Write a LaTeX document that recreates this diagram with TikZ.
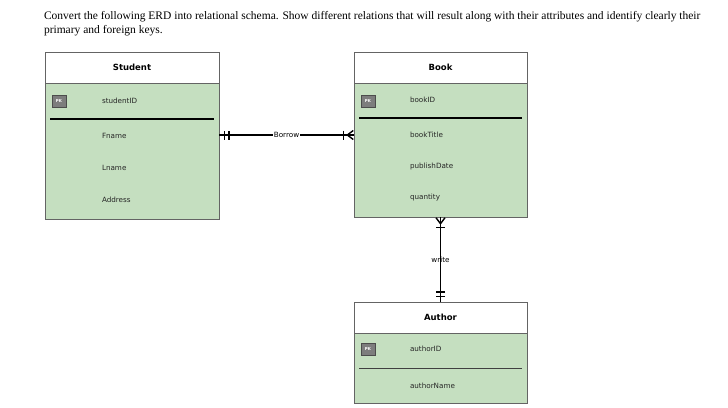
\documentclass[tikz,border=0pt]{standalone}
\usepackage{fontspec}
\setmainfont{Liberation Serif}
\newfontfamily\boxfont{DejaVu Sans}
\usetikzlibrary{arrows.meta, positioning}
\definecolor{entgreen}{RGB}{197,223,192}
\definecolor{entborder}{RGB}{100,100,100}
\definecolor{pkgray}{RGB}{125,125,125}

\begin{document}
\begin{tikzpicture}[x=1pt, y=-1pt,
    every node/.style={inner sep=0pt, outer sep=0pt},
    header/.style={rectangle, draw=entborder, fill=white, minimum height=31pt, font=\boxfont\fontsize{8.5}{10}\selectfont\bfseries},
    body/.style={rectangle, draw=entborder, fill=entgreen, anchor=north},
    pkbox/.style={rectangle, draw=black!70, fill=pkgray, minimum width=14pt, minimum height=12pt, text=white, font=\boxfont\fontsize{4}{5}\selectfont\bfseries},
    attr/.style={anchor=west, text=black!85, font=\boxfont\fontsize{7.2}{8}\selectfont},
    relname/.style={fill=white, inner sep=1pt, font=\boxfont\fontsize{7.2}{8}\selectfont},
    rel/.style={line width=1.4pt},
    one/.style={-{Bar[width=9pt, line width=1.4pt, sep=3pt] Bar[width=9pt, line width=1.4pt, sep=5pt]}},
    many/.style={-{Bar[width=9pt, line width=1.4pt, sep=2pt] Straight Barb[reversed, length=6pt, width=9pt, line width=1.4pt]}}]
    \useasboundingbox (0,0) rectangle (728,407);

    % Question
    \node[anchor=north west, align=left, font=\fontsize{11.5}{14}\selectfont] (question) at (44,11)
        {Convert the following ERD into relational schema. Show different relations that will result along with their attributes and identify clearly their\\
         primary and foreign keys.};

    % Student
    \node[header, minimum width=174pt, anchor=north west] (student) at (45,52) {Student};
    \node[body, minimum width=174pt, minimum height=136pt, below=0pt of student] (studentbody) {};
    \node[pkbox] (studentpk) at (59,101) {PK};
    \node[attr] (studentid) at (102,101) {studentID};
    \draw[line width=1.2pt] (50,119) -- (214,119);
    \node[attr] (fname) at (102,136) {Fname};
    \node[attr] (lname) at (102,168) {Lname};
    \node[attr] (address) at (102,200) {Address};

    % Book
    \node[header, minimum width=173pt, anchor=north west] (book) at (354,52) {Book};
    \node[body, minimum width=173pt, minimum height=134pt, below=0pt of book] (bookbody) {};
    \node[pkbox] (bookpk) at (368,101) {PK};
    \node[attr] (bookid) at (410,100) {bookID};
    \draw[line width=1.2pt] (359,118) -- (522,118);
    \node[attr] (booktitle) at (410,135) {bookTitle};
    \node[attr] (publishdate) at (410,167) {publishDate};
    \node[attr] (quantity) at (410,198) {quantity};

    % Author
    \node[header, minimum width=173pt, anchor=north west] (author) at (354,302) {Author};
    \node[body, minimum width=173pt, minimum height=70pt, below=0pt of author] (authorbody) {};
    \node[pkbox] (authorpk) at (368,349) {PK};
    \node[attr] (authorid) at (410,349) {authorID};
    \draw[line width=0.6pt, black!75] (359,368) -- (522,368);
    \node[attr] (authorname) at (410,386) {authorName};

    % Relationships
    \draw[rel, one] (booktitle -| bookbody.west) -- (booktitle -| studentbody.east);
    \draw[rel, many] (booktitle -| studentbody.east) -- node[relname] {Borrow} (booktitle -| bookbody.west);
    \draw[rel, many] (author.north) -- node[relname] {write} (bookbody.south);
    \draw[rel, one] (bookbody.south) -- (author.north);
\end{tikzpicture}
\end{document}
